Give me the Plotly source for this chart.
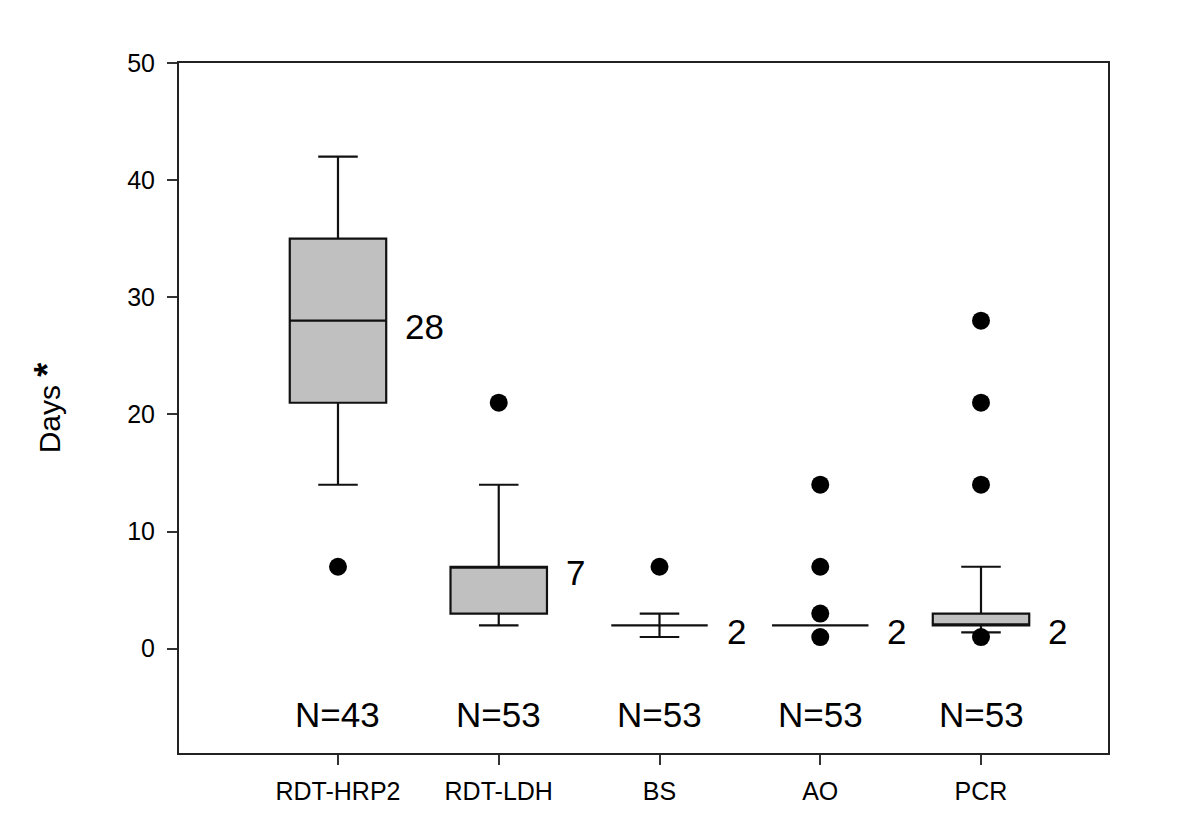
import plotly.graph_objects as go

categories = ["RDT-HRP2", "RDT-LDH", "BS", "AO", "PCR"]
q1 = [21, 3, 2, 2, 2]
median = [28, 7, 2, 2, 2]
q3 = [35, 7, 2, 2, 3]
lower_whisker = [14, 2, 1, 2, 1.4]
upper_whisker = [42, 14, 3, 2, 7]
outliers = [[7], [21], [7], [1, 3, 7, 14], [1, 14, 21, 28]]
median_labels = ["28", "7", "2", "2", "2"]
n_labels = ["N=43", "N=53", "N=53", "N=53", "N=53"]

FONT = "Liberation Sans, Arial, sans-serif"
pos = list(range(1, len(categories) + 1))

fig = go.Figure()

fig.add_trace(
    go.Box(
        x=pos,
        q1=q1,
        median=median,
        q3=q3,
        lowerfence=lower_whisker,
        upperfence=upper_whisker,
        boxpoints=False,
        width=0.6,
        whiskerwidth=0.41,
        fillcolor="#c0c0c0",
        line=dict(color="#111111", width=2.2),
        showlegend=False,
        hoverinfo="skip",
    )
)

# outlier dots
ox, oy = [], []
for p, vals in zip(pos, outliers):
    for v in vals:
        ox.append(p)
        oy.append(v)
fig.add_trace(
    go.Scatter(
        x=ox, y=oy, mode="markers",
        marker=dict(color="black", size=18),
        showlegend=False, hoverinfo="skip",
    )
)

# median value labels
for p, m, lab in zip(pos, median, median_labels):
    fig.add_annotation(
        x=p + 0.3, y=m, text=lab, showarrow=False,
        xanchor="left", yanchor="middle", xshift=17, yshift=-6,
        font=dict(size=35, color="black", family=FONT),
    )

# sample size labels
for p, lab in zip(pos, n_labels):
    fig.add_annotation(
        x=p, y=-5.6, text=lab, showarrow=False,
        xanchor="center", yanchor="middle",
        font=dict(size=35, color="black", family=FONT),
    )

axis_common = dict(
    ticks="outside",
    ticklen=10,
    tickwidth=2,
    tickcolor="#333333",
    tickfont=dict(size=25, color="black", family=FONT),
    showgrid=False,
    zeroline=False,
    showline=True,
    linecolor="#222222",
    linewidth=2,
    mirror=True,
)

fig.update_layout(
    width=1200,
    height=837,
    paper_bgcolor="white",
    plot_bgcolor="white",
    margin=dict(l=171, r=100, t=55, b=92),
    font=dict(family=FONT, color="black"),
    xaxis=dict(
        range=[0.011, 5.79],
        tickvals=pos,
        ticktext=categories,
        ticklabelstandoff=5,
        **axis_common,
    ),
    yaxis=dict(
        range=[-8.9, 50],
        tickvals=[0, 10, 20, 30, 40, 50],
        ticklabelstandoff=7,
        title=dict(
            text="Days <span style='font-size:36px'><b>*</b></span>",
            font=dict(size=30, color="black", family=FONT),
            standoff=58,
        ),
        **axis_common,
    ),
)

fig.write_html("out.html")
